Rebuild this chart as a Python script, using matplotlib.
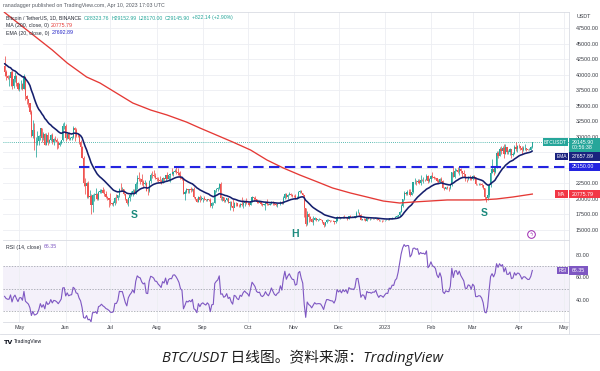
import numpy as np
import pandas as pd
import matplotlib
matplotlib.use("Agg")
import matplotlib.pyplot as plt
from matplotlib.patches import Rectangle

# ---------------- data ----------------
START = "2022-04-21"
first_open = 41370

close_apr22 = [40480, 39710, 39450, 39450, 40430, 38110, 39240, 39740, 38600, 37630]
high_apr22 = [42980, 40800, 39980, 39930, 40620, 40800, 39470, 40380, 39930, 38800]
low_apr22 = [39760, 39180, 39300, 38200, 38200, 37700, 37880, 38880, 38180, 37580]

close_may22 = [38470, 38520, 37720, 39690, 36550, 36010, 35470, 34040, 30100, 31020, 28940, 29030, 29280, 30080, 31330, 29860,
               30420, 28680, 30290, 29180, 29430, 30280, 29100, 29650, 29540, 29200, 28630, 29020, 29460, 31720, 31790]
high_may22 = [38670, 39170, 38650, 40020, 39850, 36640, 36130, 35510, 34240, 32650, 32200, 30030, 30980, 30300, 31410, 31330,
              30770, 30680, 30550, 30770, 29590, 30430, 30650, 29830, 30200, 29850, 29380, 29250, 29520, 32230, 32400]
low_may22 = [37380, 37670, 37520, 37650, 35860, 35260, 34750, 33710, 30000, 29730, 27790, 26700, 28700, 28630, 29470, 29090,
             29450, 28650, 28650, 28730, 28940, 29240, 28900, 28700, 29300, 28020, 28200, 28550, 28850, 29300, 31200]

close_jun22 = [29800, 30450, 29700, 29860, 29910, 31370, 31120, 30200, 30110, 29090, 28420, 26570, 22490, 22140, 22580,
               20380, 20470, 19010, 20550, 20570, 20720, 19970, 21100, 21230, 21500, 21030, 20740, 20280, 20100, 19780]
high_jun22 = [31980, 30680, 30690, 29940, 30160, 31770, 31590, 31400, 30640, 30380, 29440, 28530, 26900, 23360, 22760,
              22950, 21360, 20790, 20820, 21000, 21720, 20880, 21220, 21600, 21590, 21870, 21520, 21200, 20420, 20200]
low_jun22 = [29300, 29560, 29500, 29500, 29480, 29880, 29240, 29900, 29940, 28850, 28160, 26520, 22070, 20820, 20110,
             20200, 20240, 17620, 17960, 19640, 20350, 19770, 19860, 20940, 21000, 20970, 20530, 20210, 19850, 18630]

close_jul22 = [19300, 19240, 19310, 20210, 20190, 20550, 21630, 21590, 21590, 20850, 19950, 19330, 20220, 20590, 20830, 21200,
               20790, 22430, 23400, 23220, 23150, 22690, 22450, 22580, 21300, 21240, 22950, 23850, 23770, 23640, 23290]
high_jul22 = [20880, 19400, 19650, 20350, 20730, 20670, 21820, 22530, 21950, 21600, 20860, 20000, 20260, 20880, 21200, 21570,
              21650, 22770, 23800, 24280, 23420, 24000, 22990, 23000, 22680, 21700, 23110, 24200, 24440, 24670, 24200]
low_jul22 = [18970, 18990, 18780, 19060, 19310, 19770, 20230, 21200, 21320, 20640, 19860, 19250, 18910, 19630, 20390, 20480,
             20760, 20750, 21600, 22900, 22340, 22310, 21980, 22290, 21260, 20700, 21040, 22570, 23400, 23500, 23230]

close_aug22 = [23270, 22980, 22820, 22610, 23310, 23170, 23800, 23160, 23810, 23950, 23930, 24400, 24440, 24300, 24100, 23850,
               23340, 23190, 20830, 21140, 21520, 21400, 21530, 21370, 21560, 20240, 20040, 19550, 20280, 19810, 20050]
high_aug22 = [23500, 23460, 23650, 23220, 23450, 23350, 23830, 24250, 23920, 24230, 24920, 24460, 24890, 25210, 25000, 24250,
              24450, 23600, 23200, 21380, 21680, 21520, 21670, 21900, 21820, 21880, 20380, 20140, 20420, 20580, 20490]
low_aug22 = [22860, 22660, 22680, 22430, 22580, 22930, 22850, 23150, 22860, 22660, 23900, 23610, 24300, 24000, 23780, 23670,
             23180, 23100, 20790, 19820, 21000, 20890, 20890, 21160, 21320, 20160, 19800, 19520, 19540, 19540, 19800]

close_sep22 = [20130, 19950, 19830, 19990, 19790, 18790, 19290, 19320, 21360, 21650, 21830, 22400, 20170, 20230, 19700,
               19800, 20110, 19420, 19540, 18880, 18490, 19400, 19290, 18920, 18800, 19220, 19080, 19410, 19590, 19420]
high_sep22 = [20200, 20440, 20050, 20000, 20060, 20180, 19460, 19460, 21500, 21790, 21860, 22490, 22800, 20540, 20330,
              19900, 20190, 20120, 19690, 19630, 19950, 19500, 19500, 19310, 19180, 19310, 20380, 19790, 19650, 20190]
low_sep22 = [19580, 19780, 19650, 19600, 19640, 18680, 18540, 19010, 19290, 21110, 21350, 21550, 19860, 19620, 19500,
             19500, 19680, 19350, 18230, 18770, 18120, 18620, 18800, 18840, 18630, 18680, 18800, 18470, 18840, 19170]

close_oct22 = [19310, 19060, 19630, 20340, 20160, 19960, 19530, 19420, 19450, 19130, 19060, 19160, 19380, 19180, 19070, 19260,
               19550, 19330, 19120, 19040, 19160, 19200, 19570, 19330, 20090, 20770, 20290, 20600, 20820, 20630, 20490]
high_oct22 = [19480, 19400, 19720, 20480, 20370, 20440, 20060, 19600, 19520, 19530, 19270, 19220, 19510, 19950, 19230, 19360,
              19680, 19700, 19350, 19350, 19260, 19260, 19700, 19600, 20400, 21000, 20880, 20750, 21080, 20930, 20840]
low_oct22 = [19160, 18920, 19000, 19500, 19730, 19870, 19330, 19320, 19320, 19030, 18860, 18980, 18190, 19100, 19030, 19070,
             19160, 19100, 19050, 18900, 18650, 19120, 19100, 19250, 19250, 20050, 20200, 20000, 20580, 20530, 20240]

close_nov22 = [20480, 20150, 20210, 21150, 21300, 20910, 20600, 18540, 15920, 17600, 17070, 16810, 16330, 16620, 16900,
               16660, 16690, 16700, 16640, 16280, 15780, 16230, 16600, 16600, 16520, 16460, 16440, 16220, 16440, 17170]
high_nov22 = [20700, 20810, 20390, 21300, 21480, 21370, 21000, 20660, 18600, 18100, 17690, 17200, 16890, 17200, 17130,
              16980, 16750, 16950, 16800, 16650, 16300, 16290, 16780, 16810, 16600, 16680, 16600, 16480, 16560, 17250]
low_nov22 = [20360, 20050, 20050, 20180, 21000, 20880, 20380, 17170, 15590, 15750, 16360, 16370, 16230, 15810, 16540,
             16420, 16400, 16550, 16570, 16190, 15480, 15700, 16200, 16460, 16330, 16400, 16400, 16000, 16100, 16420]

close_dec22 = [16970, 17090, 16890, 17110, 16970, 17090, 16840, 17220, 17130, 17130, 17090, 17210, 17780, 17800, 17360, 16630,
               16780, 16740, 16440, 16900, 16820, 16830, 16780, 16840, 16830, 16920, 16700, 16550, 16630, 16600, 16540]
high_dec22 = [17320, 17110, 17060, 17200, 17420, 17110, 17120, 17300, 17350, 17230, 17270, 17240, 18000, 18390, 17850, 17530,
              16800, 16870, 16810, 17060, 16930, 16870, 16950, 16870, 16870, 16940, 16960, 16780, 16660, 16640, 16630]
low_dec22 = [16850, 16790, 16870, 16880, 16870, 16910, 16680, 16730, 17080, 17080, 17070, 16870, 17080, 17660, 17270, 16530,
             16580, 16660, 16400, 16390, 16760, 16550, 16750, 16790, 16720, 16790, 16590, 16470, 16490, 16330, 16480]

close_jan23 = [16620, 16680, 16670, 16850, 16830, 16950, 16940, 17120, 17180, 17440, 17940, 18850, 19930, 20950, 20870, 21170,
               21160, 20680, 21070, 22670, 22780, 22710, 22920, 22630, 23060, 23010, 23080, 23030, 23740, 22830, 23130]
high_jan23 = [16630, 16760, 16770, 16990, 16910, 17040, 16950, 17180, 17390, 17490, 17990, 19110, 19970, 21260, 21050, 21440,
              21650, 21650, 21180, 22760, 23370, 23080, 23170, 23180, 23800, 23240, 23500, 23180, 23950, 23810, 23320]
low_jan23 = [16500, 16550, 16610, 16650, 16750, 16780, 16910, 16910, 17160, 17150, 17310, 17900, 18690, 19890, 20560, 20610,
             20860, 20400, 20660, 21000, 22340, 22300, 22520, 22460, 22300, 22850, 22570, 22870, 22990, 22500, 22730]

close_feb23 = [23730, 23490, 23430, 23330, 22930, 22760, 23260, 22960, 21800, 21630, 21860, 21790, 21780, 22200, 24330, 23520,
               24570, 24630, 24280, 24840, 24440, 24190, 23950, 23190, 23150, 23550, 23490, 23140]
high_feb23 = [23810, 24250, 23690, 23580, 23440, 23160, 23370, 23450, 22990, 21950, 21900, 22090, 21900, 22320, 24380, 25250,
              25020, 24890, 25190, 25120, 25000, 24470, 24600, 23880, 23250, 23690, 23890, 23600]
low_feb23 = [22750, 23360, 23230, 23250, 22760, 22630, 22690, 22650, 21690, 21450, 21600, 21620, 21350, 21530, 22050, 23520,
             23340, 24510, 24200, 23850, 24150, 23600, 23600, 22850, 22720, 23070, 23100, 23040]

close_mar23 = [23650, 23470, 22360, 22350, 22430, 22410, 22200, 21700, 20360, 20190, 20630, 22160, 24200, 24750, 24380, 25060,
               27420, 26970, 28040, 27770, 28170, 27300, 28350, 27480, 27480, 27990, 27130, 27270, 28350, 28030, 28480]
high_mar23 = [23880, 23780, 23480, 22410, 22600, 22560, 22550, 22280, 21800, 20370, 20790, 22190, 24500, 26390, 25250, 25200,
              27760, 27720, 28390, 28500, 28530, 28870, 28800, 28400, 27800, 28200, 28050, 27500, 28650, 29180, 28650]
low_mar23 = [23030, 23150, 22200, 22200, 22200, 22280, 21930, 21600, 20040, 19550, 19900, 20270, 21900, 24120, 23900, 24200,
             25000, 26600, 26840, 27200, 27400, 26600, 27150, 27180, 27200, 27000, 26550, 26880, 27200, 27670, 27520]

close_apr23 = [28450, 28200, 27810, 28170, 28180, 28040, 27920, 27950, 28324, 29146]
high_apr23 = [28800, 28530, 28500, 28440, 28780, 28190, 28100, 28180, 28500, 29153]
low_apr23 = [28250, 27880, 27300, 27670, 27840, 27730, 27800, 27870, 27880, 28170]

# 200-day MA
sma_dates = ["2022-04-21", "2022-05-23", "2022-06-02", "2022-06-15", "2022-06-24", "2022-07-05", "2022-07-16",
             "2022-07-28", "2022-08-08", "2022-08-21", "2022-08-30", "2022-09-21", "2022-10-03", "2022-10-14",
             "2022-10-25", "2022-11-05", "2022-11-17", "2022-11-27", "2022-12-09", "2022-12-20", "2022-12-31",
             "2023-01-11", "2023-01-20", "2023-02-12", "2023-03-06", "2023-03-17", "2023-03-28", "2023-04-10"]
sma_values = [50000, 43960, 41870, 39620, 38650, 37040, 35430, 34300, 33500, 32370, 31410, 29160, 27870, 26260,
              24970, 23850, 22720, 21760, 20950, 20310, 19660, 19340, 19500, 19830, 19830, 19990, 20310, 20780]

ema_seed = 41900          # EMA value at the left edge of the chart
rsi_seed_gain, rsi_seed_loss = 600.0, 720.0

resistance_level = 25150.0
resistance_from = "2022-06-10"

price_ticks = [15000, 17500, 20000, 22500, 25000, 27500, 30000, 32500, 35000, 37500, 40000, 42500, 45000, 47500]
hidden_ticks = [25000, 27500]      # covered by the value labels in the reference
rsi_ticks = [40, 60, 80]
pattern_labels = ["S", "H", "S"]
pattern_dates = ["2022-07-17", "2022-11-02", "2023-03-09"]
pattern_prices = [17400, 14330, 17730]

header = "ranadagger published on TradingView.com, Apr 10, 2023 17:03 UTC"
caption = "BTC/USDT 日线图。资料来源：TradingView"

# ---------------- assemble ----------------
close = np.array(close_apr22 + close_may22 + close_jun22 + close_jul22 + close_aug22 + close_sep22 + close_oct22 +
                 close_nov22 + close_dec22 + close_jan23 + close_feb23 + close_mar23 + close_apr23, float)
high = np.array(high_apr22 + high_may22 + high_jun22 + high_jul22 + high_aug22 + high_sep22 + high_oct22 +
                high_nov22 + high_dec22 + high_jan23 + high_feb23 + high_mar23 + high_apr23, float)
low = np.array(low_apr22 + low_may22 + low_jun22 + low_jul22 + low_aug22 + low_sep22 + low_oct22 +
               low_nov22 + low_dec22 + low_jan23 + low_feb23 + low_mar23 + low_apr23, float)
n = len(close)
open_ = np.concatenate([[first_open], close[:-1]])
t0 = pd.Timestamp(START)
dates = pd.date_range(START, periods=n, freq="D")
x = np.asarray((dates - t0).days, float)


def dx(d):
    return float((pd.Timestamp(d) - t0).days)


ema = pd.Series(np.concatenate([[ema_seed], close])).ewm(span=20, adjust=False).mean().values[1:]
delta = np.diff(np.concatenate([[first_open], close]))
ag, al = rsi_seed_gain, rsi_seed_loss
rsi = []
for d in delta:
    ag = (ag * 13 + max(d, 0)) / 14
    al = (al * 13 + max(-d, 0)) / 14
    rsi.append(100 - 100 / (1 + ag / al))
rsi = np.array(rsi)

UP, DN = "#26a69a", "#ef5350"
EMA_C, MA_C, LVL_C, RSI_C = "#151f6d", "#e53935", "#2424e0", "#7e57c2"
GRID = "#eceef2"
TXT = "#3a3d45"
FONT = "Liberation Sans"
plt.rcParams["font.family"] = [FONT, "DejaVu Sans"]

W, H = 600, 371
fig = plt.figure(figsize=(6, 3.71), dpi=100)
fig.patch.set_facecolor("white")


def fx(px):
    return px / W


def fy(py):
    return 1 - py / H


XL, XR = 3, 569
ax = fig.add_axes([fx(XL), fy(240), fx(XR) - fx(XL), fy(12) - fy(240)])
axr = fig.add_axes([fx(XL), fy(322), fx(XR) - fx(XL), fy(240) - fy(322)], sharex=ax)

xlim = (-1.05, 378.6)
ax.set_xlim(*xlim)
ax.set_ylim(13389, 50074)
axr.set_ylim(20.4, 93.3)

month_starts = pd.date_range("2022-05-01", "2023-05-01", freq="MS")
mx = [dx(m) for m in month_starts]
mlab = ["2023" if m.month == 1 else m.strftime("%b") for m in month_starts]

for a in (ax, axr):
    a.set_facecolor("white")
    for s in a.spines.values():
        s.set_color("#d9dce3")
        s.set_linewidth(0.6)
    a.spines["left"].set_visible(False)
    a.set_xticks(mx)
    a.grid(True, axis="x", color=GRID, lw=0.6, zorder=0)
    a.yaxis.tick_right()
    a.tick_params(axis="both", length=0, labelsize=3.9, labelcolor=TXT, pad=5)

ax.set_yticks(price_ticks)
ax.set_yticklabels(["" if v in hidden_ticks else f"{v:.2f}" for v in price_ticks])
ax.grid(True, axis="y", color=GRID, lw=0.6, zorder=0)
ax.tick_params(axis="x", labelbottom=False)
axr.set_xticklabels(mlab)
axr.tick_params(axis="x", pad=2.5)
axr.set_yticks(rsi_ticks)
axr.set_yticklabels([f"{v:.2f}" for v in rsi_ticks])

# candles
col = np.where(close >= open_, UP, DN)
ax.vlines(x, low, high, colors=col, lw=0.55, zorder=3)
ax.bar(x, np.abs(close - open_), bottom=np.minimum(open_, close), width=0.8, color=col, lw=0, zorder=3)

# indicators
ax.plot(x, ema, color=EMA_C, lw=1.15, zorder=4, solid_capstyle="round")
ax.plot([dx(d) for d in sma_dates], sma_values, color=MA_C, lw=0.95, zorder=4)
ax.hlines(resistance_level, dx(resistance_from), xlim[1], color=LVL_C, lw=1.5, linestyles=(0, (5, 2.6)), zorder=4)
ax.axhline(close[-1], color=UP, lw=0.6, ls=(0, (1, 1.5)), zorder=2)

for lab, d, p in zip(pattern_labels, pattern_dates, pattern_prices):
    ax.text(dx(d), p, lab, color="#1c8a7d", fontsize=7.5, fontweight="bold", ha="center", va="center", zorder=5)

# purple event icon
ax.plot([dx("2023-04-09")], [14330], marker="o", ms=5.5, mfc="white", mec="#9c27b0", mew=0.7, zorder=5)
ax.text(dx("2023-04-09"), 14330, "ϟ", color="#9c27b0", fontsize=3.6, ha="center", va="center", zorder=6,
        family="DejaVu Sans")

# RSI panel
axr.axhspan(30, 70, color=RSI_C, alpha=0.08, lw=0, zorder=1)
for lv in (70, 50, 30):
    axr.axhline(lv, color="#9598a1", lw=0.5, ls=(0, (2, 2)), zorder=2)
axr.plot(x, rsi, color=RSI_C, lw=0.8, zorder=4)

fig.canvas.draw()
renderer = fig.canvas.get_renderer()


def value_box(a, val, text, color, tag=None, tag_x=None, x1=600, two=None, min_y=None):
    yp = H - a.transData.transform((0, val))[1]
    if min_y is not None:
        yp = max(yp, min_y)
    if two:
        top, bot = yp - 4.5, yp + 9.5
    else:
        top, bot = yp - 4.3, yp + 4.3
    fig.add_artist(Rectangle((fx(XR), fy(bot)), fx(x1) - fx(XR), fy(top) - fy(bot), transform=fig.transFigure,
                             fc=color, ec="none", zorder=5))
    fig.text(fx(XR + 2.5), fy(yp), text, color="white", fontsize=3.8, va="center", ha="left", zorder=6)
    if two:
        fig.text(fx(XR + 2.5), fy(yp + 5.5), two, color="white", fontsize=3.8, va="center", ha="left", zorder=6)
    if tag:
        fig.add_artist(Rectangle((fx(tag_x), fy(yp + 3.8)), fx(XR - 1) - fx(tag_x), fy(yp - 3.8) - fy(yp + 3.8),
                                 transform=fig.transFigure, fc=color, ec="none", zorder=5))
        fig.text((fx(tag_x) + fx(XR - 1)) / 2, fy(yp), tag, color="white", fontsize=3.5, va="center", ha="center",
                 zorder=6)
    return bot


btc_bottom = value_box(ax, close[-1], "29145.90", UP, tag="BTCUSDT", tag_x=543, two="00:56:38")
ema_bottom = value_box(ax, ema[-1], "27657.89", "#1a237e", tag="EMA", tag_x=555, min_y=btc_bottom + 5.0)
value_box(ax, resistance_level, "25150.00", LVL_C, min_y=ema_bottom + 4.8)
value_box(ax, sma_values[-1], "20775.79", "#f23645", tag="MA", tag_x=555)
value_box(axr, rsi[-1], "66.35", RSI_C, tag="RSI", tag_x=557, x1=588)

fig.text(fx(577), fy(17), "USDT", fontsize=3.9, color=TXT, va="center", ha="left")


def seq_text(x_px, y_px, parts, size=3.8):
    xx = fx(x_px)
    for s, c in parts:
        t = fig.text(xx, fy(y_px), s, color=c, fontsize=size, va="center", ha="left", zorder=6)
        bb = t.get_window_extent(renderer)
        xx = bb.x1 / W + fx(2.2)


DK = "#2a2e39"
seq_text(6, 18, [("Bitcoin / TetherUS, 1D, BINANCE", DK), ("O28323.76", UP), ("H29152.99", UP),
                 ("L28170.00", UP), ("C29145.90", UP), ("+822.14 (+2.90%)", UP)], size=3.7)
seq_text(6, 25.5, [("MA (200, close, 0)", DK), ("20775.79", MA_C)])
seq_text(6, 33, [("EMA (20, close, 0)", DK), ("27692.89", "#2424c8")])
seq_text(6, 247, [("RSI (14, close)", DK), ("66.35", RSI_C)])

fig.text(fx(3), fy(6), header, fontsize=3.8, color="#555a63", va="center", ha="left")

# frame lines
fig.add_artist(plt.Line2D([0, 1], [fy(334), fy(334)], transform=fig.transFigure, color="#d9dce3", lw=0.6))
fig.add_artist(plt.Line2D([fx(XR), fx(XR)], [fy(322), fy(334)], transform=fig.transFigure, color="#d9dce3", lw=0.6))

# TradingView logo
fig.text(fx(3.5), fy(342), "TV", fontsize=4.6, fontweight="bold", color="#131722", va="center", ha="left",
         family="DejaVu Sans")
fig.text(fx(14), fy(342), "TradingView", fontsize=3.6, color="#131722", va="center", ha="left")

fig.text(fx(302), fy(357.5), caption, fontsize=10.6, style="italic", color="#1e1e1e", va="center", ha="center",
         family=["Open Sans", "Noto Sans CJK SC"])

fig.savefig("out.png", dpi=100, facecolor="white")
